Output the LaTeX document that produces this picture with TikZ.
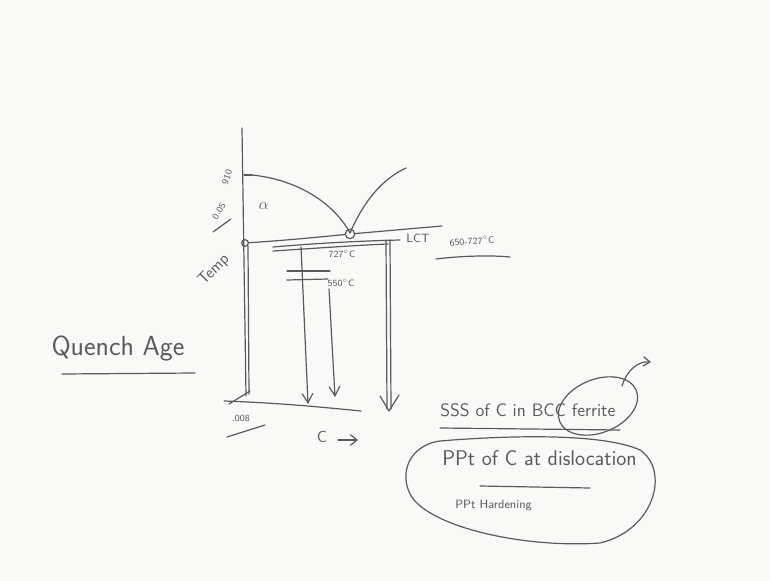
\documentclass[tikz,border=0pt]{standalone}
\usetikzlibrary{arrows.meta,shapes.geometric}
\definecolor{ink}{HTML}{5A5A5A}
\definecolor{board}{HTML}{F9F9F8}
\begin{document}
\begin{tikzpicture}[x=0.75pt,y=-0.75pt,
  pen/.style={draw=ink,line width=0.9pt,line cap=round,line join=round},
  lbl/.style={text=ink,inner sep=0pt,font=\sffamily},
  vtip/.style={-{Straight Barb[length=7pt,width=8pt]}}]
\useasboundingbox[fill=board] (0,0) rectangle (770,581);
% axes
\coordinate (ytop) at (242,128);
\coordinate (ybot) at (246,396);
\coordinate (y2top) at (248,246);
\coordinate (y2bot) at (249,394);
\draw[pen] (ytop) -- (ybot);
\draw[pen] (y2top) -- (y2bot);
\coordinate (xl) at (224,401);
\coordinate (xr) at (361,411);
\draw[pen] (xl) .. controls (280,403) and (320,407) .. (xr);
\coordinate (ck1) at (229,404);
\coordinate (ck2) at (250,391);
\draw[pen] (ck1) -- (ck2);
% alpha solvus and curves
\coordinate (a0) at (244,175);
\coordinate (eut) at (350,233);
\coordinate (rtop) at (406,168);
\draw[pen] (a0) -- (252,175);
\draw[pen] (252,175) .. controls (300,180) and (335,205) .. (eut);
\draw[pen] (eut) .. controls (362,205) and (380,180) .. (rtop);
\node[draw=ink,line width=0.9pt,circle,minimum size=7pt,inner sep=0pt] (ec) at (350,234) {};
\node[draw=ink,line width=0.9pt,circle,minimum size=5pt,inner sep=0pt] (lcir) at (245,243) {};
% horizontal lines
\coordinate (h1r) at (442,226);
\draw[pen] (lcir) .. controls (290,240) and (320,237) .. (ec);
\draw[pen] (ec) -- (h1r);
\coordinate (h2l) at (273,247);
\coordinate (h2r) at (400,240);
\coordinate (h3l) at (273,251);
\coordinate (h3r) at (388,244);
\draw[pen] (h2l) .. controls (320,243) and (360,241) .. (h2r);
\draw[pen] (h3l) .. controls (320,248) and (360,245) .. (h3r);
\coordinate (t1l) at (287,271);
\coordinate (t1r) at (330,271);
\coordinate (t2l) at (287,280);
\coordinate (t2r) at (328,279);
\draw[pen] (t1l) -- (t1r);
\draw[pen] (t2l) -- (t2r);
% arrows
\coordinate (a1t) at (301,247);
\coordinate (a1b) at (308,404);
\draw[pen,vtip] (a1t) -- (a1b);
\coordinate (a2t) at (329,289);
\coordinate (a2b) at (335,397);
\draw[pen,vtip] (a2t) -- (a2b);
\coordinate (a3t) at (386,240);
\coordinate (a3b) at (387,409);
\coordinate (a4t) at (390,240);
\coordinate (a4b) at (391,409);
\coordinate (a3l) at (380,396);
\coordinate (a3r) at (399,395);
\draw[pen] (a3t) -- (a3b);
\draw[pen] (a4t) -- (a4b);
\draw[pen] (a3l) -- (389,411) -- (a3r);
% labels on diagram
\node[lbl,rotate=70,font=\sffamily\scriptsize] (l910) at (227,177) {910};
\node[lbl,rotate=60,font=\sffamily\scriptsize] (l005) at (219,211) {0.05};
\coordinate (u005a) at (213,232);
\coordinate (u005b) at (231,219);
\draw[pen] (u005a) -- (u005b);
\node[lbl,rotate=45,font=\sffamily\large] (ltemp) at (214,270) {Temp};
\node[lbl,font=\large] (lalpha) at (264,206) {$\alpha$};
\node[lbl,font=\sffamily\scriptsize] (l727) at (342,254) {727$^\circ$C};
\node[lbl,font=\sffamily\scriptsize] (l550) at (341,283) {550$^\circ$C};
\node[lbl,font=\sffamily\small] (llct) at (418,238) {LCT};
\node[lbl,rotate=4,font=\sffamily\scriptsize] (lrange) at (472,241) {650-727$^\circ$C};
\coordinate (ura) at (436,259);
\coordinate (urb) at (510,257);
\draw[pen] (ura) .. controls (460,256) and (490,255) .. (urb);
\node[lbl,font=\sffamily\scriptsize] (l008) at (241,418) {.008};
\coordinate (u8a) at (227,437);
\coordinate (u8b) at (265,425);
\draw[pen] (u8a) -- (u8b);
\node[lbl,font=\sffamily\large] (lcarbon) at (322,437) {C};
\coordinate (carra) at (338,440);
\coordinate (carrb) at (358,440);
\draw[pen,-{Straight Barb[length=5pt,width=8pt]}] (carra) -- (carrb);
% Quench Age
\node[lbl,font=\sffamily\huge] (lqa) at (118,349) {Quench Age};
\coordinate (uqa) at (62,374);
\coordinate (uqb) at (195,373);
\draw[pen] (uqa) -- (uqb);
% notes
\node[lbl,font=\sffamily\fontsize{13.5}{16}\selectfont,anchor=west] (lsss) at (440,410) {SSS of C in BCC ferrite};
\coordinate (us1) at (440,428);
\coordinate (us2) at (620,430);
\draw[pen] (us1) -- (us2);
\node[pen,ellipse,rotate=22,minimum width=62pt,minimum height=40pt] (fe) at (598,406) {};
\coordinate (arb) at (651,362);
\draw[pen,-{Straight Barb[length=5pt,width=7pt]}] (622,386) .. controls (627,370) and (638,361) .. (arb);
\node[lbl,font=\sffamily\fontsize{16}{19}\selectfont,anchor=west] (lppt) at (442,458) {PPt of C at dislocation};
\coordinate (up1) at (480,486);
\coordinate (up2) at (590,488);
\draw[pen] (up1) -- (up2);
\node[lbl,font=\sffamily\small,anchor=west] (lhard) at (455,506) {PPt Hardening};
\draw[pen] (440,441) .. controls (500,436) and (600,432) .. (640,450)
  .. controls (670,470) and (655,530) .. (600,543)
  .. controls (530,548) and (440,530) .. (414,500)
  .. controls (398,480) and (405,446) .. (440,441);
\end{tikzpicture}
\end{document}
